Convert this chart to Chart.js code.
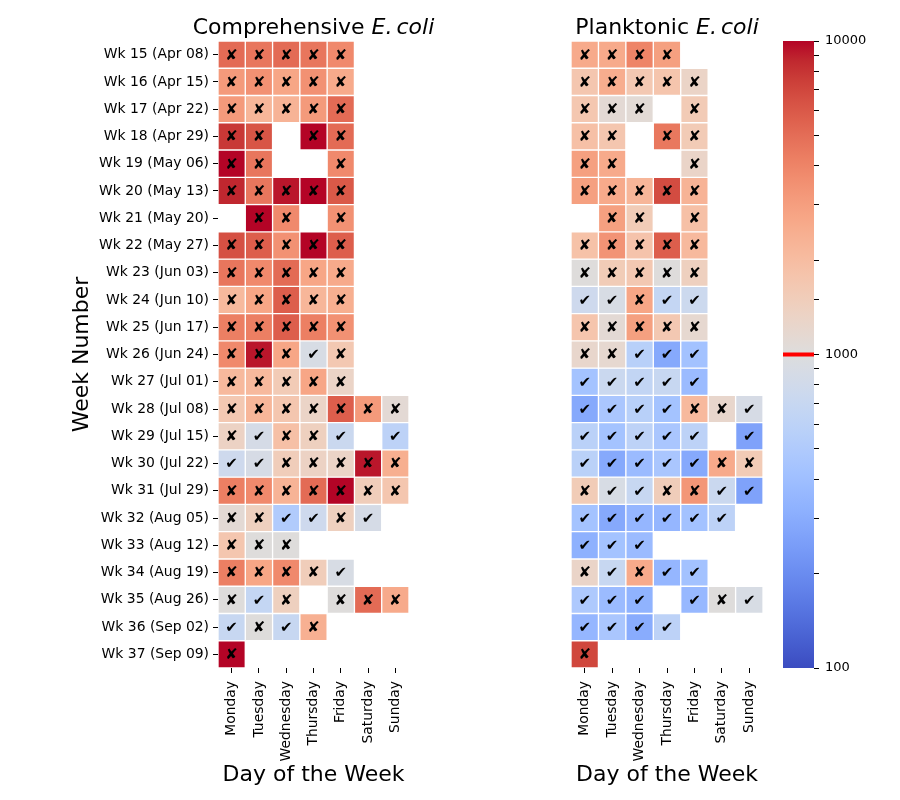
<!DOCTYPE html>
<html>
<head>
<meta charset="utf-8">
<script src="https://cdn.jsdelivr.net/npm/chart.js@4"></script>
<style>
  body { margin: 0; background: #fff; }
  .box { position: absolute; top: 0; height: 800px; }
</style>
</head>
<body>
<div class="box" style="left:0;width:450px"><canvas id="compChart"></canvas></div>
<div class="box" style="left:450px;width:324px"><canvas id="plankChart"></canvas></div>
<div class="box" style="left:770px;width:130px"><canvas id="cbarChart"></canvas></div>
<script>
// data
const days = ['Monday', 'Tuesday', 'Wednesday', 'Thursday', 'Friday', 'Saturday', 'Sunday'];
const weeks = [
    'Wk 15 (Apr 08)', 'Wk 16 (Apr 15)', 'Wk 17 (Apr 22)', 'Wk 18 (Apr 29)', 'Wk 19 (May 06)',
    'Wk 20 (May 13)', 'Wk 21 (May 20)', 'Wk 22 (May 27)', 'Wk 23 (Jun 03)', 'Wk 24 (Jun 10)',
    'Wk 25 (Jun 17)', 'Wk 26 (Jun 24)', 'Wk 27 (Jul 01)', 'Wk 28 (Jul 08)', 'Wk 29 (Jul 15)',
    'Wk 30 (Jul 22)', 'Wk 31 (Jul 29)', 'Wk 32 (Aug 05)', 'Wk 33 (Aug 12)', 'Wk 34 (Aug 19)',
    'Wk 35 (Aug 26)', 'Wk 36 (Sep 02)', 'Wk 37 (Sep 09)'
];
const threshold = 1000;
const cbarMin = 100;
const cbarMax = 10000;
const cbarLabels = [100, 1000, 10000];

// Comprehensive E. coli, one row per week (Mon..Sun), null = no sample
const comprehensive = [
    [5100, 4600, 5100, 4600, 3800, null, null],
    [3150, 3500, 2750, 3500, 2600, null, null],
    [3150, 2200, 2300, 3150, 5100, null, null],
    [7800, 6200, null, 10000, 5100, null, null],
    [10000, 4600, null, null, 3800, null, null],
    [8700, 4600, 9300, 10000, 6000, null, null],
    [null, 10000, 3800, null, 3500, null, null],
    [6500, 5700, 3500, 10000, 5700, null, null],
    [4600, 3800, 5100, 2750, 2600, null, null],
    [2100, 2750, 5700, 2200, 2450, null, null],
    [4200, 4200, 5700, 4200, 3500, null, null],
    [3800, 9300, 2750, 900, 1650, null, null],
    [2100, 2100, 1570, 2750, 1300, null, null],
    [1650, 2200, 1720, 1300, 5700, 3150, 1120],
    [1350, 860, 1900, 1420, 730, null, 600],
    [770, 880, 1500, 1350, 1300, 9300, 2450],
    [4200, 3800, 2300, 5100, 10000, 1500, 1720],
    [1120, 1420, 510, 770, 1420, 860, null],
    [1720, 1020, 1020, null, null, null, null],
    [4200, 2750, 3800, 1500, 900, null, null],
    [1020, 670, 1420, null, 1020, 5100, 2600],
    [700, 1020, 700, 2400, null, null, null],
    [10000, null, null, null, null, null, null]
];

// Planktonic E. coli
const planktonic = [
    [2600, 2600, 4000, 2950, null, null, null],
    [1720, 2500, 1650, 1750, 1300, null, null],
    [1700, 1120, 1100, null, 1570, null, null],
    [1900, 1720, null, 4500, 1570, null, null],
    [2950, 2600, null, null, 1280, null, null],
    [2950, 2600, 2200, 6700, 2300, null, null],
    [null, 2950, 1550, null, 1900, null, null],
    [1850, 3400, 1800, 5700, 2100, null, null],
    [1020, 1550, 1650, 1020, 1420, null, null],
    [770, 900, 2750, 670, 750, null, null],
    [1750, 1120, 2950, 1650, 1170, null, null],
    [1230, 1170, 560, 290, 420, null, null],
    [430, 730, 650, 700, 380, null, null],
    [290, 460, 560, 430, 2100, 1230, 880],
    [580, 430, 600, 460, 600, null, 265],
    [580, 290, 380, 460, 290, 2600, 1570],
    [1550, 900, 700, 1500, 3300, 730, 265],
    [430, 290, 350, 350, 420, 600, null],
    [320, 430, 380, null, null, null, null],
    [1280, 700, 2600, 350, 420, null, null],
    [490, 380, 330, null, 360, 1020, 900],
    [350, 460, 300, 600, null, null, null],
    [7000, null, null, null, null, null, null]
];

// coolwarm colour stops
const coolwarmStops = [
    [59,76,192],[68,90,204],[77,104,215],[87,117,225],[98,130,234],[108,142,241],
    [119,154,247],[130,165,251],[141,176,254],[152,185,255],[163,194,255],[174,201,253],
    [184,208,249],[194,213,244],[204,217,238],[213,219,230],[221,221,221],[229,216,209],
    [236,211,197],[241,204,184],[245,196,172],[247,187,159],[247,177,147],[247,166,134],
    [244,154,123],[241,141,111],[236,127,99],[229,112,89],[222,96,77],[213,80,67],
    [203,62,56],[192,40,47],[180,4,38]
];

function coolwarmAt(t) {
    t = Math.max(0, Math.min(1, t));
    const pos = t * (coolwarmStops.length - 1);
    const i = Math.min(Math.floor(pos), coolwarmStops.length - 2);
    const f = pos - i;
    const a = coolwarmStops[i], b = coolwarmStops[i + 1];
    return 'rgb(' + a.map((c, k) => Math.round(c + (b[k] - c) * f)).join(',') + ')';
}

function colorFor(v) {
    const lo = Math.log10(cbarMin), hi = Math.log10(cbarMax);
    return coolwarmAt((Math.log10(v) - lo) / (hi - lo));
}

const FONT = 'DejaVu Sans';

function heatDatasets(values) {
    return values.map((row, i) => ({
        data: row.map(v => v == null ? null : [i, i + 1]),
        backgroundColor: row.map(v => v == null ? 'rgba(0,0,0,0)' : colorFor(v)),
        borderColor: '#ffffff',
        borderWidth: 1,
        borderSkipped: false,
        grouped: false,
        barPercentage: 1,
        categoryPercentage: 1
    }));
}

// draws the tick / cross symbol in each cell and the title above the grid
function heatPlugin(values, name) {
    return {
        id: 'heatMarks',
        afterDatasetsDraw(chart) {
            const ctx = chart.ctx;
            ctx.save();
            ctx.fillStyle = '#000';
            ctx.font = '15px ' + FONT;
            ctx.textAlign = 'center';
            ctx.textBaseline = 'middle';
            values.forEach((row, i) => {
                const meta = chart.getDatasetMeta(i);
                row.forEach((v, j) => {
                    if (v == null) return;
                    const p = meta.data[j].getCenterPoint();
                    ctx.fillText(v >= threshold ? '\u2718' : '\u2714', p.x, p.y + 1);
                });
            });
            ctx.restore();
        },
        afterDraw(chart) {
            const ctx = chart.ctx;
            const area = chart.chartArea;
            ctx.save();
            ctx.fillStyle = '#000';
            ctx.textBaseline = 'alphabetic';
            const f1 = '22px ' + FONT;
            const f2 = 'italic 22px ' + FONT;
            ctx.font = f1;
            const w1 = ctx.measureText(name + ' ').width;
            ctx.font = f2;
            const w2 = ctx.measureText('E.').width;
            const gap = 4;
            const w3 = ctx.measureText('coli').width;
            let x = (area.left + area.right) / 2 - (w1 + w2 + gap + w3) / 2;
            const y = 34;
            ctx.textAlign = 'left';
            ctx.font = f1;
            ctx.fillText(name + ' ', x, y);
            x += w1;
            ctx.font = f2;
            ctx.fillText('E.', x, y);
            x += w2 + gap;
            ctx.fillText('coli', x, y);
            ctx.restore();
        }
    };
}

function heatChart(id, values, name, showWeeks) {
    return new Chart(document.getElementById(id), {
        type: 'bar',
        data: { labels: days, datasets: heatDatasets(values) },
        options: {
            responsive: true,
            maintainAspectRatio: false,
            animation: false,
            layout: {
                padding: showWeeks
                    ? { left: 0, top: 41, right: 41, bottom: 0 }
                    : { left: 121, top: 41, right: 0, bottom: 0 }
            },
            plugins: { legend: { display: false }, tooltip: { enabled: false } },
            scales: {
                x: {
                    ticks: {
                        minRotation: 90, maxRotation: 90, autoSkip: false,
                        color: '#000', padding: 8,
                        font: { family: FONT, size: 13.9 }
                    },
                    grid: { drawOnChartArea: false, offset: false, tickLength: 5, color: '#000' },
                    border: { display: false },
                    title: {
                        display: true, text: 'Day of the Week', color: '#000',
                        font: { family: FONT, size: 22 },
                        padding: { top: 0, bottom: 12 }
                    },
                    afterFit(scale) { scale.height = 132; }
                },
                y: {
                    type: 'linear',
                    display: showWeeks,
                    min: 0,
                    max: weeks.length,
                    reverse: true,
                    afterBuildTicks(scale) {
                        scale.ticks = weeks.map((w, i) => ({ value: i + 0.5 }));
                    },
                    ticks: {
                        autoSkip: false, color: '#000', padding: 4,
                        font: { family: FONT, size: 13.9 },
                        callback: v => weeks[Math.floor(v)]
                    },
                    grid: { drawOnChartArea: false, tickLength: 5, color: '#000' },
                    border: { display: false },
                    title: {
                        display: true, text: 'Week Number', color: '#000',
                        font: { family: FONT, size: 22 },
                        padding: { top: 69, bottom: 0 }
                    },
                    afterFit(scale) { if (showWeeks) scale.width = 218; }
                }
            }
        },
        plugins: [heatPlugin(values, name)]
    });
}

heatChart('compChart', comprehensive, 'Comprehensive', true);
heatChart('plankChart', planktonic, 'Planktonic', false);

// colour bar
function cbarGradient(context) {
    const chart = context.chart;
    const area = chart.chartArea;
    if (!area) return null;
    const g = chart.ctx.createLinearGradient(0, area.bottom, 0, area.top);
    const n = coolwarmStops.length;
    for (let i = 0; i < n; i++) g.addColorStop(i / (n - 1), coolwarmAt(i / (n - 1)));
    return g;
}

new Chart(document.getElementById('cbarChart'), {
    type: 'bar',
    data: {
        labels: [''],
        datasets: [{
            data: [[cbarMin, cbarMax]],
            backgroundColor: cbarGradient,
            borderWidth: 0,
            barPercentage: 1,
            categoryPercentage: 1
        }]
    },
    options: {
        responsive: true,
        maintainAspectRatio: false,
        animation: false,
        layout: { padding: { left: 13, top: 41, right: 0, bottom: 132 } },
        plugins: { legend: { display: false }, tooltip: { enabled: false } },
        scales: {
            x: { display: false },
            y: {
                type: 'logarithmic',
                position: 'right',
                min: cbarMin,
                max: cbarMax,
                ticks: {
                    autoSkip: false, color: '#000', padding: 6,
                    font: { family: FONT, size: 13 },
                    callback: v => cbarLabels.includes(v) ? String(v) : ''
                },
                grid: {
                    drawOnChartArea: false, tickLength: 5, color: '#000',
                    tickWidth: 1
                },
                border: { display: false },
                afterFit(scale) { scale.width = 86; }
            }
        }
    },
    plugins: [{
        id: 'thresholdLine',
        afterDatasetsDraw(chart) {
            const ctx = chart.ctx;
            const area = chart.chartArea;
            const y = chart.scales.y.getPixelForValue(threshold);
            ctx.save();
            ctx.strokeStyle = '#ff0000';
            ctx.lineWidth = 4;
            ctx.beginPath();
            ctx.moveTo(area.left, y);
            ctx.lineTo(area.right, y);
            ctx.stroke();
            ctx.restore();
        }
    }]
});
</script>
</body>
</html>
